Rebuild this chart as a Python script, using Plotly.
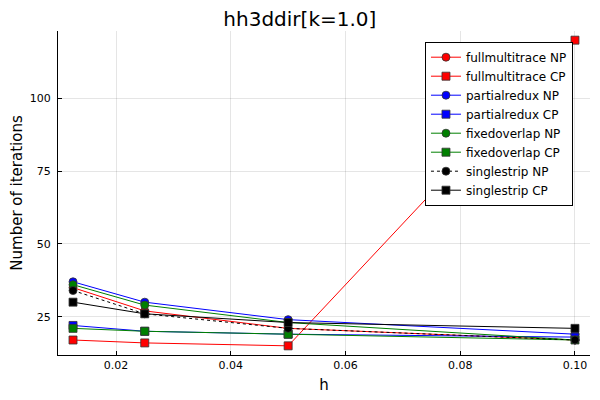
import plotly.graph_objects as go

h = [0.0125, 0.025, 0.05, 0.1]

fullmultitrace_np = [35, 27, 21, 17]
fullmultitrace_cp = [17, 16, 15, 120]
partialredux_np = [37, 30, 24, 19]
partialredux_cp = [22, 20, 19, 18]
fixedoverlap_np = [36, 29, 23, 17]
fixedoverlap_cp = [21, 20, 19, 17]
singlestrip_np = [34, 26, 21, 17]
singlestrip_cp = [30, 26, 23, 21]

series = [
    ("fullmultitrace NP", fullmultitrace_np, "red", "circle", "solid"),
    ("fullmultitrace CP", fullmultitrace_cp, "red", "square", "solid"),
    ("partialredux NP", partialredux_np, "blue", "circle", "solid"),
    ("partialredux CP", partialredux_cp, "blue", "square", "solid"),
    ("fixedoverlap NP", fixedoverlap_np, "green", "circle", "solid"),
    ("fixedoverlap CP", fixedoverlap_cp, "green", "square", "solid"),
    ("singlestrip NP", singlestrip_np, "black", "circle", "dot"),
    ("singlestrip CP", singlestrip_cp, "black", "square", "solid"),
]

fig = go.Figure()
for name, vals, col, sym, dash in series:
    fig.add_trace(go.Scatter(
        x=h, y=vals, name=name, mode="lines+markers",
        line=dict(color=col, width=1, dash=dash),
        marker=dict(symbol=sym, size=8, color=col,
                    line=dict(color="#333333", width=0.8)),
    ))

axis_style = dict(
    showline=True, linecolor="black", linewidth=1,
    ticks="inside", ticklen=4, tickcolor="black",
    showgrid=True, gridcolor="rgba(0,0,0,0.1)", gridwidth=0.5,
    zeroline=False, mirror=False, automargin=False,
    tickfont=dict(size=11, color="black"),
)

# the page body has an 8px margin, so the figure is a bit smaller than the window
fig.update_layout(
    width=592, height=392,
    paper_bgcolor="white", plot_bgcolor="white",
    font=dict(family="DejaVu Sans", color="black"),
    title=dict(text="hh3ddir[k=1.0]", x=0.493, xanchor="center",
               y=0.99, yanchor="top", font=dict(size=20), automargin=False),
    margin=dict(l=50, r=10, t=23, b=45),
    showlegend=True,
    legend=dict(
        x=0.968, y=0.967, xanchor="right", yanchor="top",
        bordercolor="black", borderwidth=1, bgcolor="white",
        font=dict(size=12), tracegroupgap=0, itemwidth=30,
    ),
    xaxis=dict(axis_style, range=[0.00988, 0.10262],
               tickvals=[0.02, 0.04, 0.06, 0.08, 0.10],
               ticktext=["0.02", "0.04", "0.06", "0.08", "0.10"],
               title=dict(text="h", font=dict(size=15), standoff=8)),
    yaxis=dict(axis_style, range=[11.85, 123.15],
               tickvals=[25, 50, 75, 100], ticklabelstandoff=4,
               title=dict(text="Number of iterations", font=dict(size=15), standoff=14)),
)

fig.write_html("out.html")
